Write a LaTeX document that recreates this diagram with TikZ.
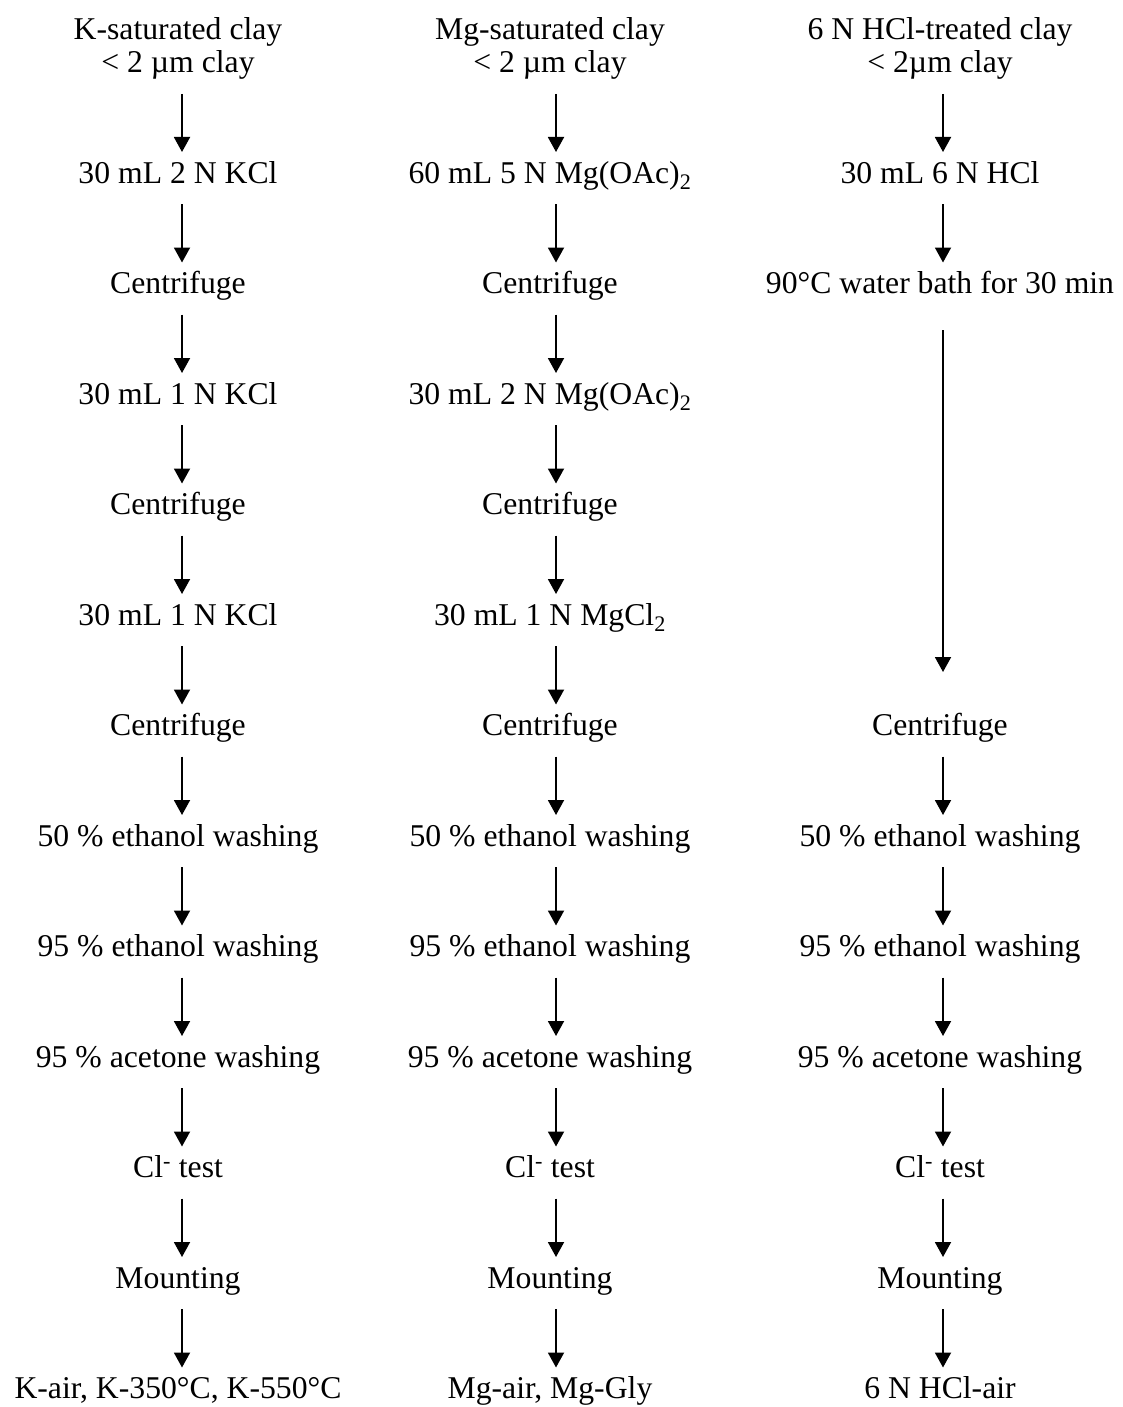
\documentclass[tikz,border=0pt]{standalone}
\usepackage{fontspec}
\setmainfont{Liberation Serif}
\usetikzlibrary{arrows.meta}
\newcommand\flowarr[3]{\draw[flow] ([shift={(#1,-21)}]#2.base) -- ([shift={(#1,31)}]#3.base);}
\begin{document}
\begin{tikzpicture}[x=1pt,y=1pt,
  lbl/.style={anchor=base,inner sep=0pt,font=\fontsize{31.7}{33}\selectfont},
  ttl/.style={lbl,align=center},
  flow/.style={-{Triangle[width=16pt,length=15pt]},line width=1.9pt}]
\useasboundingbox (0,0) rectangle (1122,-1407);
% column 1
\node[ttl] (a0) at (178,-73) {K-saturated clay\\< 2 µm clay};
\node[lbl] (a1) at (178,-183) {30 mL 2 N KCl};
\node[lbl] (a2) at (178,-293.5) {Centrifuge};
\node[lbl] (a3) at (178,-404) {30 mL 1 N KCl};
\node[lbl] (a4) at (178,-514.5) {Centrifuge};
\node[lbl] (a5) at (178,-625) {30 mL 1 N KCl};
\node[lbl] (a6) at (178,-735.5) {Centrifuge};
\node[lbl] (a7) at (178,-846) {50 \% ethanol washing};
\node[lbl] (a8) at (178,-956.5) {95 \% ethanol washing};
\node[lbl] (a9) at (178,-1067) {95 \% acetone washing};
\node[lbl] (a10) at (178,-1177.5) {Cl\textsuperscript{-} test};
\node[lbl] (a11) at (178,-1288) {Mounting};
\node[lbl] (a12) at (178,-1398.5) {K-air, K-350°C, K-550°C};
% column 2
\node[ttl] (b0) at (550,-73) {Mg-saturated clay\\< 2 µm clay};
\node[lbl] (b1) at (550,-183) {60 mL 5 N Mg(OAc)\textsubscript{2}};
\node[lbl] (b2) at (550,-293.5) {Centrifuge};
\node[lbl] (b3) at (550,-404) {30 mL 2 N Mg(OAc)\textsubscript{2}};
\node[lbl] (b4) at (550,-514.5) {Centrifuge};
\node[lbl] (b5) at (550,-625) {30 mL 1 N MgCl\textsubscript{2}};
\node[lbl] (b6) at (550,-735.5) {Centrifuge};
\node[lbl] (b7) at (550,-846) {50 \% ethanol washing};
\node[lbl] (b8) at (550,-956.5) {95 \% ethanol washing};
\node[lbl] (b9) at (550,-1067) {95 \% acetone washing};
\node[lbl] (b10) at (550,-1177.5) {Cl\textsuperscript{-} test};
\node[lbl] (b11) at (550,-1288) {Mounting};
\node[lbl] (b12) at (550,-1398.5) {Mg-air, Mg-Gly};
% column 3
\node[ttl] (c0) at (940,-73) {6 N HCl-treated clay\\< 2µm clay};
\node[lbl] (c1) at (940,-183) {30 mL 6 N HCl};
\node[lbl] (c2) at (940,-293.5) {90°C water bath for 30 min};
\node[lbl] (c6) at (940,-735.5) {Centrifuge};
\node[lbl] (c7) at (940,-846) {50 \% ethanol washing};
\node[lbl] (c8) at (940,-956.5) {95 \% ethanol washing};
\node[lbl] (c9) at (940,-1067) {95 \% acetone washing};
\node[lbl] (c10) at (940,-1177.5) {Cl\textsuperscript{-} test};
\node[lbl] (c11) at (940,-1288) {Mounting};
\node[lbl] (c12) at (940,-1398.5) {6 N HCl-air};
% arrows
\foreach \i [evaluate=\i as \j using int(\i+1)] in {0,...,11}{
  \flowarr{4}{a\i}{a\j}
  \flowarr{6}{b\i}{b\j}
}
\flowarr{3}{c0}{c1}
\flowarr{3}{c1}{c2}
\draw[flow] ([shift={(3,-36.5)}]c2.base) -- ([shift={(3,63.5)}]c6.base);
\foreach \i [evaluate=\i as \j using int(\i+1)] in {6,...,11}{
  \flowarr{3}{c\i}{c\j}
}
\end{tikzpicture}
\end{document}
